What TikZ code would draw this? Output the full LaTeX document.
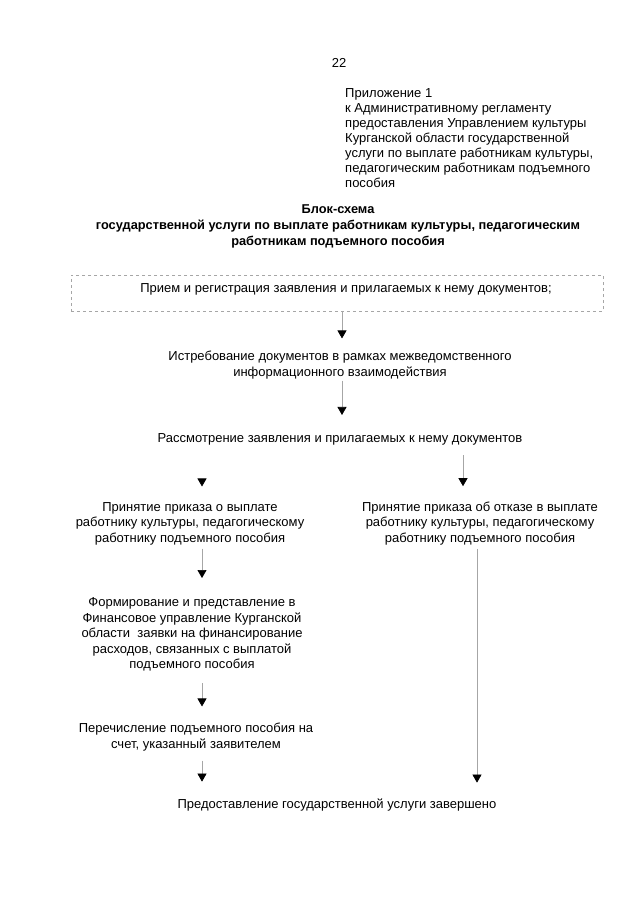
\documentclass[tikz,border=0pt]{standalone}
\usepackage{fontspec}
\setmainfont{Liberation Sans}
\usetikzlibrary{arrows.meta}
\begin{document}
\begin{tikzpicture}[x=1pt,y=-1pt,
  txt/.style={inner sep=0pt,align=center,font=\fontsize{13}{15.5}\selectfont},
  conn/.style={draw=gray!70,line width=0.7pt,-{Triangle[width=9pt,length=8pt,color=black]}},
  dbox/.style={draw=gray!70,dashed,line width=0.7pt,minimum width=532pt,minimum height=36pt,inner sep=0pt}]
\useasboundingbox[fill=white] (0,0) rectangle (640,905);
\node[txt] (num) at (339,63) {22};
\node[txt,align=left,anchor=west,font=\fontsize{13}{15}\selectfont] (head) at (345,138) {Приложение 1\\к Административному регламенту\\предоставления Управлением культуры\\Курганской области государственной\\услуги по выплате работникам культуры,\\педагогическим работникам подъемного\\пособия};
\node[txt,font=\fontsize{12.8}{16}\selectfont\bfseries] (title) at (338,226) {Блок-схема\\государственной услуги по выплате работникам культуры, педагогическим\\работникам подъемного пособия};
\node[dbox] (box) at (337,293) {};
\node[txt] (t1) at (346,289) {Прием и регистрация заявления и прилагаемых к нему документов;};
\node[txt] (t2) at (340,365) {Истребование документов в рамках межведомственного\\информационного взаимодействия};
\node[txt] (t3) at (340,439.5) {Рассмотрение заявления и прилагаемых к нему документов};
\node[txt] (t4) at (190,523.5) {Принятие приказа о выплате\\работнику культуры, педагогическому\\работнику подъемного пособия};
\node[txt] (t4r) at (480,523.5) {Принятие приказа об отказе в выплате\\работнику культуры, педагогическому\\работнику подъемного пособия};
\node[txt] (t5) at (192,634.5) {Формирование и представление в\\Финансовое управление Курганской\\области\ \ заявки на финансирование\\расходов, связанных с выплатой\\подъемного пособия};
\node[txt] (t6) at (196,737) {Перечисление подъемного пособия на\\счет, указанный заявителем};
\node[txt] (t7) at (337,805.5) {Предоставление государственной услуги завершено};
\draw[conn] ([xshift=5pt]box.south) -- ([xshift=2pt,yshift=12.5pt]t2.north);
\draw[conn] ([xshift=2pt,yshift=-1.5pt]t2.south) -- ([xshift=2pt,yshift=18.5pt]t3.north);
\draw[conn] ([xshift=-138pt,yshift=-33.5pt]t3.south) -- ([xshift=12pt,yshift=15.5pt]t4.north);
\draw[conn] ([xshift=123pt,yshift=-9.5pt]t3.south) -- ([xshift=-17pt,yshift=15.5pt]t4r.north);
\draw[conn] ([xshift=12pt,yshift=-3.5pt]t4.south) -- ([xshift=10pt,yshift=19.5pt]t5.north);
\draw[conn] ([xshift=10pt,yshift=-11.5pt]t5.south) -- ([xshift=6pt,yshift=16.5pt]t6.north);
\draw[conn] ([xshift=6pt,yshift=-9.5pt]t6.south) -- ([xshift=-135pt,yshift=17.5pt]t7.north);
\draw[conn] ([xshift=-3pt,yshift=-3.5pt]t4r.south) -- ([xshift=140pt,yshift=16.5pt]t7.north);
\end{tikzpicture}
\end{document}
